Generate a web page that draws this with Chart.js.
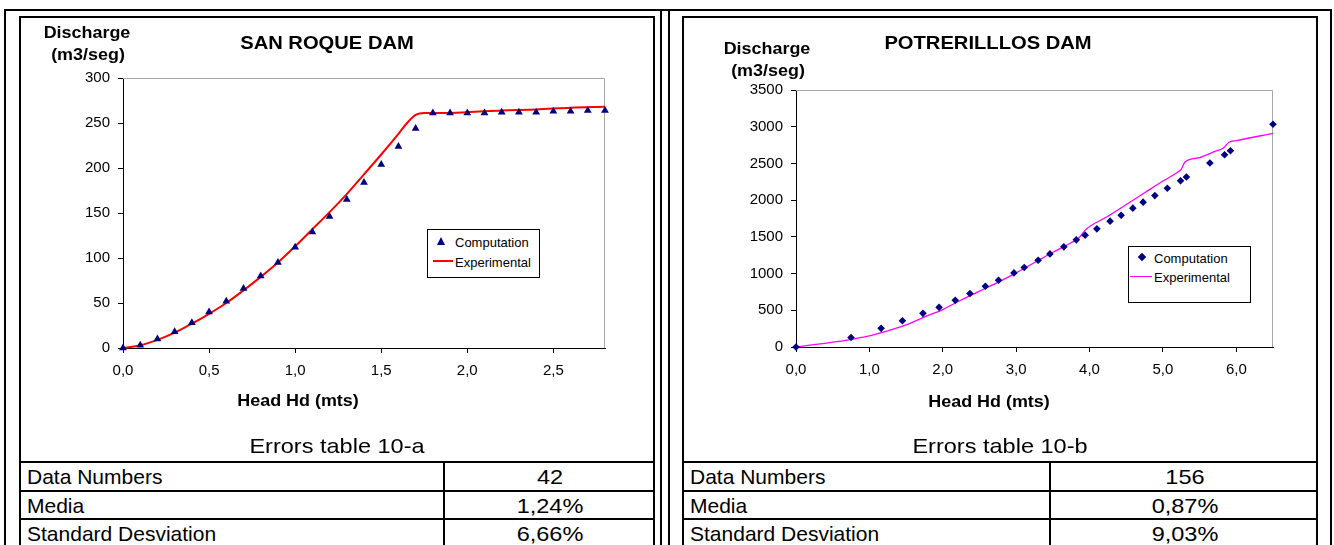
<!DOCTYPE html>
<html>
<head>
<meta charset="utf-8">
<script src="https://cdn.jsdelivr.net/npm/chart.js@4.4.1/dist/chart.umd.min.js"></script>
<style>
  body { margin: 0; width: 1334px; height: 545px; overflow: hidden; background: #fff; position: relative;
         font-family: "Liberation Sans", Arial, sans-serif; color: #000; }
  .abs { position: absolute; }
  .box { position: absolute; border: 2px solid #000; box-sizing: border-box; }
  .hl { position: absolute; height: 2px; background: #000; }
  .vl { position: absolute; width: 2px; background: #000; }
  .t { position: absolute; white-space: nowrap; transform: translate(-50%, -50%) scaleX(1.12); }
  .tl { position: absolute; white-space: nowrap; transform: translate(0, -50%); transform-origin: left center; }
  .bold { font-weight: bold; }
  canvas { position: absolute; }
  .legend { position: absolute; border: 1px solid #000; background: #fff; box-sizing: border-box; }
</style>
</head>
<body>
<div class="box" style="left:4px;top:9px;width:1328px;height:600px"></div>
<div class="vl" style="left:660px;top:9px;height:600px"></div>
<div class="vl" style="left:668px;top:9px;height:600px"></div>
<div class="box" style="left:19px;top:16px;width:636px;height:600px"></div>
<div class="box" style="left:682px;top:16px;width:636px;height:600px"></div>

<canvas id="sanRoque" width="630" height="400" style="left:22px;top:20px"></canvas>
<canvas id="potrerillos" width="630" height="400" style="left:685px;top:20px"></canvas>

<div id="texts"></div>

<script>
// San Roque dam
const sanRoqueHead = [0.0, 0.1, 0.2, 0.3, 0.4, 0.5, 0.6, 0.7, 0.8, 0.9, 1.0, 1.1, 1.2, 1.3, 1.4,
  1.5, 1.6, 1.7, 1.8, 1.9, 2.0, 2.1, 2.2, 2.3, 2.4, 2.5, 2.6, 2.7, 2.8];
const sanRoqueComputation = [0, 3, 10, 18, 28, 40, 52, 66, 80, 95, 112, 129, 146, 165, 184,
  204, 224, 244, 261, 261, 261, 261, 262, 262, 262, 263, 263, 264, 264];
const sanRoqueExpHead = [0.0, 0.1, 0.2, 0.3, 0.4, 0.5, 0.6, 0.7, 0.8, 0.9, 1.0, 1.1, 1.2, 1.3,
  1.4, 1.5, 1.6, 1.65, 1.7, 1.75, 1.8, 2.0, 2.2, 2.4, 2.6, 2.8];
const sanRoqueExperimental = [0, 3, 9, 17, 27, 38, 50, 64, 79, 95, 113, 132, 151, 171,
  193, 215, 238, 250, 259, 261, 261, 262, 264, 265, 267, 268];

// Potrerillos dam
const potrerillosHead = [0.0, 0.75, 1.16, 1.45, 1.73, 1.95, 2.17, 2.37, 2.58, 2.76, 2.97, 3.11,
  3.30, 3.46, 3.65, 3.82, 3.94, 4.10, 4.28, 4.43, 4.59, 4.73, 4.89, 5.06, 5.24, 5.32, 5.64,
  5.84, 5.92, 6.50];
const potrerillosComputation = [0, 130, 254, 358, 458, 540, 636, 727, 827, 909, 1009, 1082,
  1182, 1268, 1364, 1459, 1523, 1609, 1714, 1795, 1891, 1973, 2062, 2161, 2265, 2315, 2506,
  2619, 2673, 3033];
const potrerillosExpHead = [0.0, 0.5, 0.75, 1.0, 1.25, 1.5, 1.75, 2.0, 2.25, 2.5, 2.75, 3.0,
  3.25, 3.5, 3.75, 3.85, 3.95, 4.25, 4.5, 4.75, 5.0, 5.2, 5.25, 5.3, 5.5, 5.7, 5.82, 5.9, 6.0, 6.5];
const potrerillosExperimental = [0, 65, 105, 150, 220, 300, 410, 510, 640, 760, 880, 1010,
  1150, 1290, 1420, 1480, 1600, 1780, 1940, 2100, 2260, 2380, 2420, 2520, 2580, 2660, 2706,
  2788, 2810, 2910];

// error tables
const errorRows = ['Data Numbers', 'Media', 'Standard Desviation'];
const errorsA = ['42', '1,24%', '6,66%'];
const errorsB = ['156', '0,87%', '9,03%'];

const FONT = '"Liberation Sans", Arial, sans-serif';

// gray frame on top and right of the plot area, like Excel
const plotFrame = {
  id: 'plotFrame',
  beforeDatasetsDraw(chart) {
    const { ctx, chartArea: a } = chart;
    ctx.save();
    ctx.strokeStyle = '#a6a6a6';
    ctx.lineWidth = 1;
    ctx.beginPath();
    ctx.moveTo(a.left, a.top + 0.5);
    ctx.lineTo(a.right - 0.5, a.top + 0.5);
    ctx.lineTo(a.right - 0.5, a.bottom);
    ctx.stroke();
    ctx.restore();
  }
};

function toPoints(xs, ys) {
  return xs.map((x, i) => ({ x: x, y: ys[i] }));
}

function makeChart(id, o) {
  const tickFont = { family: FONT, size: 15 };
  return new Chart(document.getElementById(id), {
    type: 'scatter',
    data: {
      datasets: [
        {
          label: 'Computation',
          data: toPoints(o.head, o.comp),
          pointStyle: o.marker,
          pointRadius: o.markerSize,
          backgroundColor: '#000080',
          borderColor: '#000080',
          borderWidth: 0,
          clip: false,
          order: 0
        },
        {
          type: 'line',
          label: 'Experimental',
          data: toPoints(o.expHead, o.exp),
          borderColor: o.lineColor,
          borderWidth: o.lineWidth,
          pointRadius: 0,
          cubicInterpolationMode: 'monotone',
          fill: false,
          clip: false,
          order: 1
        }
      ]
    },
    options: {
      responsive: false,
      animation: false,
      events: [],
      layout: { padding: { top: o.padTop, right: o.padRight, left: 0, bottom: 0 } },
      plugins: { legend: { display: false }, tooltip: { enabled: false } },
      scales: {
        x: {
          type: 'linear',
          min: 0,
          max: o.xMax,
          afterFit: s => { s.height = o.xHeight; },
          ticks: {
            stepSize: o.xStep,
            includeBounds: false,
            autoSkip: false,
            maxRotation: 0,
            color: '#000',
            font: tickFont,
            padding: 9,
            callback: v => v.toFixed(1).replace('.', ',')
          },
          grid: { drawOnChartArea: false, tickLength: 5, color: '#000' },
          border: { color: '#000' }
        },
        y: {
          min: 0,
          max: o.yMax,
          afterFit: s => { s.width = o.yWidth; },
          ticks: {
            stepSize: o.yStep,
            color: '#000',
            font: tickFont,
            padding: 8,
            callback: v => String(v)
          },
          grid: { drawOnChartArea: false, tickLength: 5, color: '#000' },
          border: { color: '#000' }
        }
      }
    },
    plugins: [plotFrame]
  });
}

makeChart('sanRoque', {
  head: sanRoqueHead, comp: sanRoqueComputation,
  expHead: sanRoqueExpHead, exp: sanRoqueExperimental,
  marker: 'triangle', markerSize: 4.5, lineColor: '#ff0000', lineWidth: 2,
  xMax: 2.8, xStep: 0.5, yMax: 300, yStep: 50,
  padTop: 58, padRight: 47, yWidth: 101, xHeight: 72
});

makeChart('potrerillos', {
  head: potrerillosHead, comp: potrerillosComputation,
  expHead: potrerillosExpHead, exp: potrerillosExperimental,
  marker: 'rectRot', markerSize: 3.8, lineColor: '#ff00ff', lineWidth: 1.3,
  xMax: 6.5, xStep: 1, yMax: 3500, yStep: 500,
  padTop: 70, padRight: 42, yWidth: 111, xHeight: 73
});

// titles, legends and tables
const texts = document.getElementById('texts');
function add(html) { texts.insertAdjacentHTML('beforeend', html); }
function centered(txt, x, y, size, bold) {
  add(`<div class="t${bold ? ' bold' : ''}" style="left:${x}px;top:${y}px;font-size:${size}px">${txt}</div>`);
}
function leftText(txt, x, y, size) {
  add(`<div class="tl" style="left:${x}px;top:${y}px;font-size:${size}px">${txt}</div>`);
}

// left panel
centered('SAN ROQUE DAM', 327, 43, 18, true);
centered('Discharge', 87, 33, 16, true);
centered('(m3/seg)', 88, 55, 16, true);
centered('Head Hd (mts)', 298, 401, 16, true);
// right panel
centered('POTRERILLLOS DAM', 988, 43, 18, true);
centered('Discharge', 767, 49, 16, true);
centered('(m3/seg)', 768, 71, 16, true);
centered('Head Hd (mts)', 989, 402, 16, true);

// legends
add('<div class="legend" style="left:427px;top:229px;width:113px;height:49px"></div>');
add('<div class="abs" style="left:437px;top:237px;width:0;height:0;border-left:4px solid transparent;border-right:4px solid transparent;border-bottom:8px solid #000080"></div>');
leftText('Computation', 455, 242, 13);
add('<div class="abs" style="left:433px;top:260px;width:20px;height:2px;background:#ff0000"></div>');
leftText('Experimental', 455, 262, 13);

add('<div class="legend" style="left:1128px;top:246px;width:123px;height:57px"></div>');
add('<div class="abs" style="left:1139px;top:254px;width:6px;height:6px;background:#000080;transform:rotate(45deg)"></div>');
leftText('Computation', 1154, 258, 13);
add('<div class="abs" style="left:1130px;top:276px;width:22px;height:1px;background:#ff00ff"></div>');
leftText('Experimental', 1154, 277, 13);

// error tables
function errorTable(caption, values, x0, x1, xDiv) {
  centered(caption, (x0 + x1) / 2, 446, 21, false);
  const rowTops = [461, 490, 518];
  rowTops.forEach(y => add(`<div class="hl" style="left:${x0}px;top:${y}px;width:${x1 - x0}px"></div>`));
  add(`<div class="vl" style="left:${xDiv}px;top:461px;height:100px"></div>`);
  errorRows.forEach((r, i) => {
    const cy = rowTops[i] + 16;
    leftText(r, x0 + 8, cy, 21);
    centered(values[i], (xDiv + x1) / 2 + 1, cy, 21, false);
  });
}
errorTable('Errors table 10-a', errorsA, 19, 655, 443);
errorTable('Errors table 10-b', errorsB, 682, 1318, 1049);
</script>
</body>
</html>
